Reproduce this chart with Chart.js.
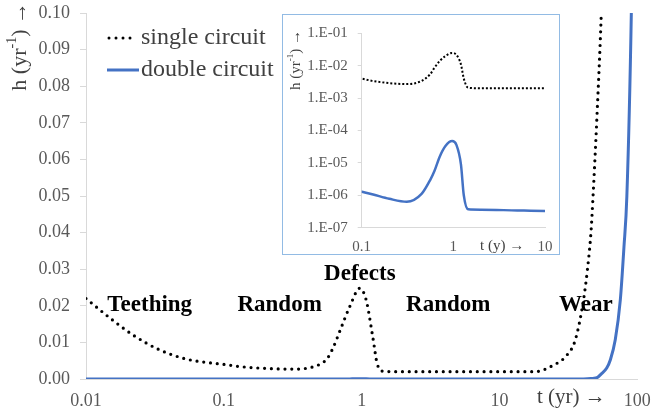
<!DOCTYPE html>
<html>
<head>
<meta charset="utf-8">
<script src="https://cdn.jsdelivr.net/npm/chart.js@4.4.1/dist/chart.umd.min.js"></script>
<style>
  html, body { margin: 0; padding: 0; background: #fff; }
  #wrap { position: relative; width: 652px; height: 414px; }
  #main { position: absolute; left: 0; top: 0; }
  #insetBox {
    position: absolute; left: 282px; top: 14px;
    width: 276px; height: 239px;
    border: 1px solid #92BBE4; background: #fff;
  }
  #inset { display: block; }
</style>
</head>
<body>
<div id="wrap">
  <canvas id="main" width="652" height="414"></canvas>
  <div id="insetBox"><canvas id="inset" width="276" height="239"></canvas></div>
</div>
<script>
// Bathtub hazard curves, single vs double circuit.
// Main plot: linear h, log t. Inset: log h, log t (same data).

// ---- Data ----

const tYears = [0.01, 0.015, 0.022, 0.034, 0.054, 0.084, 0.1, 0.13, 0.2, 0.31,
    0.45, 0.56, 0.62, 0.71, 0.82, 0.97, 1.08, 1.21, 1.3, 1.45,
    2, 5, 10, 18, 24.7, 30.8, 35.5, 40.7, 43.5, 46.1,
    47.6, 51, 54.8, 60, 63.7, 69.2, 75.3, 80, 84, 90.5, 100];

const singleH = [0.0220, 0.0166, 0.0120, 0.0080, 0.0054, 0.0043, 0.0040, 0.0034, 0.0029, 0.0027,
    0.0034, 0.0055, 0.0085, 0.0140, 0.0198, 0.0248, 0.0215, 0.0110, 0.0040, 0.0021,
    0.0020, 0.0020, 0.0020, 0.0020, 0.0038, 0.0065, 0.0107, 0.0216, 0.0300, 0.0400,
    0.0490, 0.0720, 0.1000, 0.15, 0.2, 0.3, 0.45, 0.6, 0.8, 1.2, 2.0];

const doubleH = [8e-6, 5.5e-6, 4e-6, 2.8e-6, 2e-6, 1.45e-6, 1.29e-6, 1.08e-6, 7.8e-7, 6.3e-7,
    1.1e-6, 3.0e-6, 5.5e-6, 1.55e-5, 3.3e-5, 4.7e-5, 3.6e-5, 9e-6, 1.0e-6, 3.7e-7,
    3.6e-7, 3.4e-7, 3.3e-7, 3.3e-7, 5e-7, 2e-6, 8e-6, 3e-5, 6e-5, 1.1e-4,
    1.6e-4, 3.5e-4, 0.0014, 0.0030, 0.0052, 0.0107, 0.0216, 0.036, 0.050, 0.1, 0.22];

const seriesNames = ['single circuit', 'double circuit'];

const mainXTicks = [0.01, 0.1, 1, 10, 100];
const mainYTicks = [0, 0.01, 0.02, 0.03, 0.04, 0.05, 0.06, 0.07, 0.08, 0.09, 0.10];
const insetXTicks = [0.1, 1, 10];
const insetYTicks = [1e-7, 1e-6, 1e-5, 1e-4, 1e-3, 1e-2, 1e-1];

// Phase labels, placed in data coordinates of the main plot.
const phaseLabels = ['Teething', 'Random', 'Defects', 'Random', 'Wear'];
const phaseT = [0.029, 0.254, 0.97, 4.25, 42.3];
const phaseH = [0.0202, 0.0202, 0.0287, 0.0202, 0.0202];

// ---- Styling ----

const SERIF = '"Liberation Serif", "Times New Roman", serif';
const BLUE = '#4472C4';
const AXIS_GREY = '#D9D9D9';
const TICK_TEXT = '#595959';
const TITLE_TEXT = '#404040';

const points = (ys) => tYears.map((t, i) => ({ x: t, y: ys[i] }));

function fixedTicks(values) {
    return (scale) => { scale.ticks = values.map((v) => ({ value: v })); };
}

// Pin a scale's size and drop the label overhang padding so the
// plot area lands exactly where the layout padding says.
function pinSize(dim, px) {
    return (s) => {
        s[dim] = px;
        s.paddingLeft = 0;
        s.paddingRight = 0;
        s.paddingTop = 0;
        s.paddingBottom = 0;
    };
}

// Draws "h (yr^-1) →" rotated, reading bottom to top, ending at (cx, topY).
function drawHazardTitle(ctx, cx, topY, size) {
    const sup = Math.round(size * 0.62);
    const parts = [
        { text: 'h (yr', font: `${size}px ${SERIF}`, dy: 0 },
        { text: '-1', font: `${sup}px ${SERIF}`, dy: -size * 0.35 },
        { text: ') \u2192', font: `${size}px ${SERIF}`, dy: 0 },
    ];
    let total = 0;
    for (const p of parts) {
        ctx.font = p.font;
        p.w = ctx.measureText(p.text).width;
        total += p.w;
    }
    ctx.save();
    ctx.translate(cx, topY);
    ctx.rotate(-Math.PI / 2);
    ctx.fillStyle = TITLE_TEXT;
    ctx.textAlign = 'left';
    ctx.textBaseline = 'middle';
    let x = -total;
    for (const p of parts) {
        ctx.font = p.font;
        ctx.fillText(p.text, x, p.dy);
        x += p.w;
    }
    ctx.restore();
}

// ---- Main chart ----

const mainDecor = {
    id: 'mainDecor',
    afterDraw(chart) {
        const { ctx } = chart;
        const xs = chart.scales.x;
        const ys = chart.scales.y;
        ctx.save();

        // phase labels
        ctx.font = `bold 23px ${SERIF}`;
        ctx.fillStyle = '#000';
        ctx.textAlign = 'center';
        ctx.textBaseline = 'middle';
        phaseLabels.forEach((lab, i) => {
            ctx.fillText(lab, xs.getPixelForValue(phaseT[i]), ys.getPixelForValue(phaseH[i]));
        });

        // legend
        ctx.lineWidth = 3;
        ctx.strokeStyle = '#000';
        ctx.lineCap = 'round';
        ctx.setLineDash([0, 7]);
        ctx.beginPath();
        ctx.moveTo(109, 38);
        ctx.lineTo(137, 38);
        ctx.stroke();
        ctx.setLineDash([]);
        ctx.lineCap = 'butt';
        ctx.strokeStyle = BLUE;
        ctx.beginPath();
        ctx.moveTo(107, 70);
        ctx.lineTo(139, 70);
        ctx.stroke();
        ctx.font = `24px ${SERIF}`;
        ctx.fillStyle = TITLE_TEXT;
        ctx.textAlign = 'left';
        ctx.fillText(seriesNames[0], 141, 38);
        ctx.fillText(seriesNames[1], 141, 70);

        // x title
        ctx.font = `21px ${SERIF}`;
        ctx.fillText('t (yr) \u2192', 537, 397);

        ctx.restore();
        drawHazardTitle(ctx, 20, 2, 22);
    },
};

new Chart(document.getElementById('main').getContext('2d'), {
    type: 'line',
    data: {
        datasets: [
            {
                label: seriesNames[0],
                data: points(singleH),
                borderColor: '#000',
                borderWidth: 3.2,
                borderDash: [0, 6.8],
                borderCapStyle: 'round',
                pointRadius: 0,
                cubicInterpolationMode: 'monotone',
            },
            {
                label: seriesNames[1],
                data: points(doubleH),
                borderColor: BLUE,
                borderWidth: 3,
                pointRadius: 0,
                cubicInterpolationMode: 'monotone',
            },
        ],
    },
    options: {
        responsive: false,
        animation: false,
        layout: { autoPadding: false, padding: { left: 0, top: 13, right: 14.7, bottom: 0 } },
        plugins: { legend: { display: false }, tooltip: { enabled: false } },
        scales: {
            x: {
                type: 'logarithmic',
                min: 0.01,
                max: 100,
                afterBuildTicks: fixedTicks(mainXTicks),
                afterFit: pinSize('height', 35),
                grid: { display: false, drawTicks: false },
                border: { display: true, color: AXIS_GREY, width: 1 },
                ticks: {
                    autoSkip: false,
                    maxRotation: 0,
                    padding: 11,
                    color: TICK_TEXT,
                    font: { family: SERIF, size: 18, lineHeight: 1.2 },
                    callback: (v) => String(v),
                },
            },
            y: {
                type: 'linear',
                min: 0,
                max: 0.1,
                afterBuildTicks: fixedTicks(mainYTicks),
                afterFit: pinSize('width', 86),
                grid: { display: true, drawOnChartArea: false, drawTicks: true, tickLength: 6, color: AXIS_GREY },
                border: { display: true, color: AXIS_GREY, width: 1 },
                ticks: {
                    padding: 10,
                    color: TICK_TEXT,
                    font: { family: SERIF, size: 18, lineHeight: 1.2 },
                    callback: (v) => v.toFixed(2),
                },
            },
        },
    },
    plugins: [mainDecor],
});

// ---- Inset chart ----

const insetDecor = {
    id: 'insetDecor',
    afterDraw(chart) {
        const { ctx } = chart;
        ctx.save();
        ctx.font = `15px ${SERIF}`;
        ctx.fillStyle = TITLE_TEXT;
        ctx.textAlign = 'left';
        ctx.textBaseline = 'middle';
        ctx.fillText('t (y) \u2192', 197, 231);
        ctx.restore();
        drawHazardTitle(ctx, 12.7, 15, 15);
    },
};

new Chart(document.getElementById('inset').getContext('2d'), {
    type: 'line',
    data: {
        datasets: [
            {
                label: seriesNames[0],
                data: points(singleH),
                borderColor: '#000',
                borderWidth: 2,
                borderDash: [2, 2],
                pointRadius: 0,
                cubicInterpolationMode: 'monotone',
            },
            {
                label: seriesNames[1],
                data: points(doubleH),
                borderColor: BLUE,
                borderWidth: 2.5,
                pointRadius: 0,
                cubicInterpolationMode: 'monotone',
            },
        ],
    },
    options: {
        responsive: false,
        animation: false,
        layout: { autoPadding: false, padding: { left: 0, top: 18.3, right: 14, bottom: 0 } },
        plugins: { legend: { display: false }, tooltip: { enabled: false } },
        scales: {
            x: {
                type: 'logarithmic',
                min: 0.1,
                max: 10,
                afterBuildTicks: fixedTicks(insetXTicks),
                afterFit: pinSize('height', 26.3),
                grid: { display: false, drawTicks: false },
                border: { display: true, color: AXIS_GREY, width: 1 },
                ticks: {
                    autoSkip: false,
                    maxRotation: 0,
                    padding: 10,
                    color: TICK_TEXT,
                    font: { family: SERIF, size: 15, lineHeight: 1.2 },
                    callback: (v) => String(v),
                },
            },
            y: {
                type: 'logarithmic',
                min: 1e-7,
                max: 0.1,
                afterBuildTicks: fixedTicks(insetYTicks),
                afterFit: pinSize('width', 78.7),
                grid: { display: true, drawOnChartArea: false, drawTicks: true, tickLength: 4, color: AXIS_GREY },
                border: { display: true, color: AXIS_GREY, width: 1 },
                ticks: {
                    padding: 10,
                    color: TICK_TEXT,
                    font: { family: SERIF, size: 15, lineHeight: 1.2 },
                    callback: (v) => '1.E-' + String(-Math.round(Math.log10(v))).padStart(2, '0'),
                },
            },
        },
    },
    plugins: [insetDecor],
});
</script>
</body>
</html>
